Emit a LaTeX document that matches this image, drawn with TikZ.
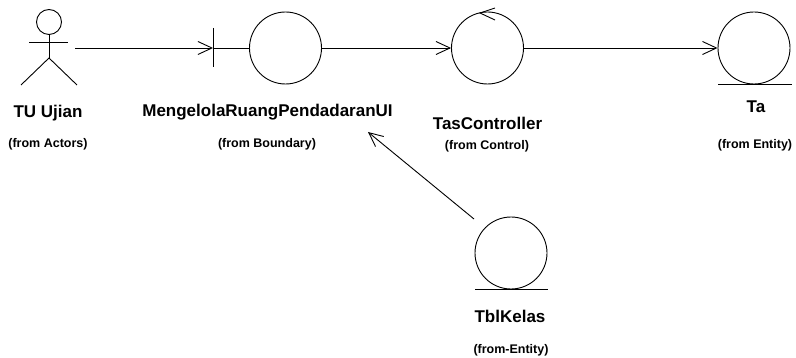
\documentclass[tikz,border=0pt]{standalone}
\usepackage{fontspec}
\setmainfont{Liberation Sans}
\usetikzlibrary{arrows.meta}
\begin{document}
\begin{tikzpicture}[x=1pt,y=-1pt, line width=0.9pt,
  obj/.style={circle, draw, minimum size=72pt, inner sep=0pt},
  nm/.style={anchor=base, inner sep=0pt, font=\fontsize{17}{20}\selectfont\bfseries},
  frm/.style={anchor=base, inner sep=0pt, font=\fontsize{12.5}{15}\selectfont\bfseries},
  msg/.style={-{Straight Barb[length=14pt,width=13pt]}},
]
\useasboundingbox (0,0) rectangle (796,358);

% Actor
\node (actor) [minimum width=52pt, minimum height=76pt, inner sep=0pt] at (49,48) {};
\draw (49,22) circle (12.5);
\draw (49,34.5) -- (49,58);
\draw (29,42) -- (68,42);
\draw (21,85) -- (49,58) -- (77,85);
\node[nm] (actorN) at (48,118) {TU Ujian};
\node[frm] (actorF) at (48,148) {(from Actors)};

% Boundary
\node[obj] (mb) at (285.5,48) {};
\coordinate (mbbar) at (213,48);
\draw (213,28) -- (213,67);
\draw (mbbar) -- (mb.west);
\node[nm] (mbN) at (267.5,117) {MengelolaRuangPendadaranUI};
\node[frm] (mbF) at (267,148) {(from Boundary)};

% Control
\node[obj] (tc) at (487.5,48) {};
\draw (495,8) -- (480,13) -- (495,20);
\node[nm] (tcN) at (487.5,130) {TasController};
\node[frm] (tcF) at (487,150) {(from Control)};

% Entity Ta
\node[obj] (ta) at (754,48) {};
\draw (718,84) -- (792,84);
\node[nm] (taN) at (756,113) {Ta};
\node[frm] (taF) at (755,149) {(from Entity)};

% Entity TblKelas
\node[obj] (tk) at (511,253) {};
\draw (475,289) -- (548,289);
\node[nm] (tkN) at (510,323) {TblKelas};
\node[frm] (tkF) at (511,353) {(from-Entity)};

% Connectors
\coordinate (tkc) at (474,219);
\coordinate (mbtip) at (368,132);
\draw[msg] (actor.east) -- (mbbar);
\draw[msg] (mb.east) -- (tc.west);
\draw[msg] (tc.east) -- (ta.west);
\draw[msg] (tkc) -- (mbtip);
\end{tikzpicture}
\end{document}
